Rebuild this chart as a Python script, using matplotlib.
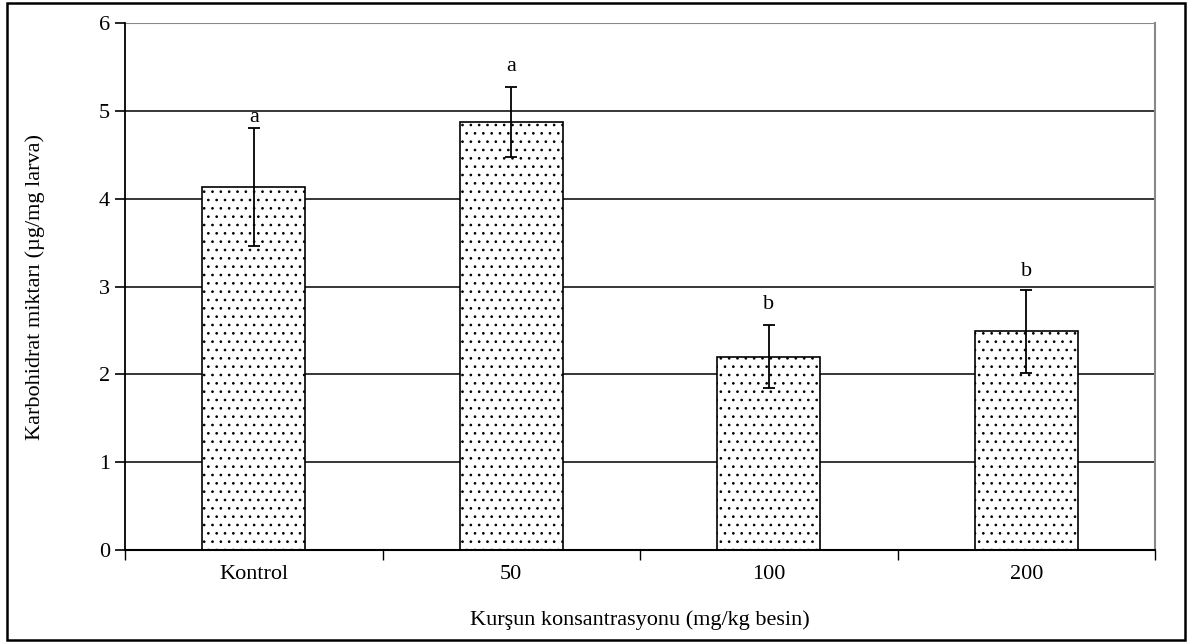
import matplotlib
matplotlib.use("Agg")
from matplotlib import pyplot as plt
from matplotlib.patches import Rectangle
import numpy as np

plt.rcParams['font.family'] = ['Liberation Serif', 'DejaVu Serif']
plt.rcParams['hatch.linewidth'] = 0.7
plt.rcParams['hatch.color'] = '#333333'

# Data
groups = ['Kontrol', '50', '100', '200']
means = [4.13, 4.87, 2.20, 2.49]
errors = [0.67, 0.40, 0.36, 0.47]
letters = ['a', 'a', 'b', 'b']
letterY = [4.92, 5.50, 2.80, 3.17]
yTicks = [0, 1, 2, 3, 4, 5, 6]

fig = plt.figure(figsize=(11.92, 6.43), dpi=100)
ax = fig.add_axes([0.1049, 0.1446, 0.8641, 0.8196])

x = np.arange(len(groups))

#Gridlines
for v in yTicks[1:-1]:
    ax.axhline(v, color='black', linewidth=1.1, zorder=1)
ax.axhline(yTicks[-1], color='#888888', linewidth=1.5, zorder=1)

ax.bar(x, means, width=0.4, color='white', edgecolor='black', linewidth=1.2,
       hatch='..', zorder=2)
ax.errorbar(x, means, yerr=errors, fmt='none', ecolor='black', elinewidth=1.3,
            capsize=4.5, capthick=1.3, zorder=3)

for i, txt in enumerate(letters):
    ax.text(x[i], letterY[i], txt, ha='center', va='center', fontsize=16, zorder=4)

ax.set_xlim(-0.5, len(groups) - 0.5)
ax.set_ylim(0, 6)
ax.set_yticks(yTicks)
ax.set_xticks(x)
ax.set_xticklabels(groups)
ax.set_xticks(np.arange(-0.5, len(groups), 1.0), minor=True)
ax.tick_params(axis='x', which='major', length=0, pad=11, labelsize=16)
ax.tick_params(axis='x', which='minor', length=7, width=1, direction='out', color='black')
ax.tick_params(axis='y', length=7, width=1.2, direction='out', pad=4, labelsize=16)

ax.spines['top'].set_visible(False)
ax.spines['right'].set_color('#888888')
ax.spines['right'].set_linewidth(1.5)
ax.spines['left'].set_linewidth(1.3)
ax.spines['bottom'].set_linewidth(1.5)

ax.set_ylabel('Karbohidrat miktarı (µg/mg larva)', fontsize=16)
ax.set_xlabel('Kurşun konsantrasyonu (mg/kg besin)', fontsize=16)
ax.yaxis.set_label_coords(-0.0874, 0.5)
ax.xaxis.set_label_coords(0.5, -0.133)
ax.xaxis.label.set_va('center')
ax.yaxis.label.set_va('center')

#Outer frame
fig.patches.append(Rectangle((0.006, 0.005), 0.988, 0.99, transform=fig.transFigure,
                             fill=False, edgecolor='black', linewidth=1.8))

fig.savefig('out.png', dpi=100)
